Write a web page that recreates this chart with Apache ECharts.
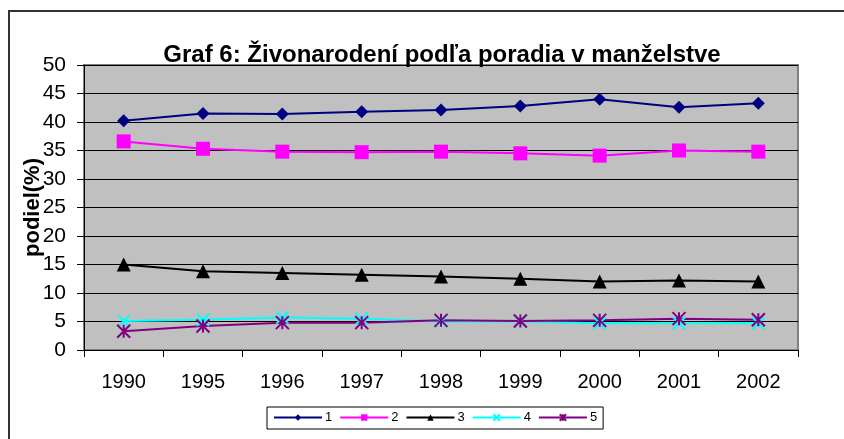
<!DOCTYPE html>
<html>
<head>
    <meta charset="utf-8">
    <title>Graf 6</title>
    <script src="https://cdn.jsdelivr.net/npm/echarts@6/dist/echarts.min.js"></script>
    <style>
        html, body { margin: 0; padding: 0; background: #fff; }
    </style>
</head>
<body>
<div id="main" style="width: 844px;height:439px;"></div>
<script type="text/javascript">
    // roky a hodnoty
    var years = ['1990', '1995', '1996', '1997', '1998', '1999', '2000', '2001', '2002'];
    var poradie1 = [40.2, 41.5, 41.4, 41.8, 42.1, 42.8, 44.0, 42.6, 43.3];
    var poradie2 = [36.6, 35.3, 34.8, 34.7, 34.8, 34.5, 34.1, 35.0, 34.8];
    var poradie3 = [15.0, 13.8, 13.5, 13.2, 12.9, 12.5, 12.0, 12.2, 12.0];
    var poradie4 = [5.1, 5.3, 5.7, 5.5, 5.0, 5.0, 4.7, 4.7, 4.7];
    var poradie5 = [3.3, 4.2, 4.8, 4.8, 5.2, 5.1, 5.2, 5.5, 5.3];
    var seriesNames = ['1', '2', '3', '4', '5'];

    var font = 'Arial, "Liberation Sans", sans-serif';
    var myChart = echarts.init(document.getElementById('main'));

    function line(name, data, color, symbol, size, extra) {
        var s = {
            name: name,
            type: 'line',
            data: data,
            symbol: symbol,
            symbolSize: size,
            showAllSymbol: true,
            lineStyle: {color: color, width: 2},
            itemStyle: {color: color},
            emphasis: {disabled: true},
            z: 3
        };
        if (extra) {
            s.itemStyle = extra;
        }
        return s;
    }

    var option = {
        animation: false,
        backgroundColor: '#fff',
        title: {
            text: 'Graf 6: Živonarodení podľa poradia v manželstve',
            left: 437,
            textAlign: 'center',
            top: 38,
            textStyle: {fontFamily: font, fontSize: 24, fontWeight: 'bold', color: '#000'}
        },
        legend: {
            data: seriesNames,
            left: 267,
            top: 407,
            width: 340,
            orient: 'horizontal',
            itemWidth: 48,
            itemHeight: 8,
            itemGap: 7,
            padding: [4, 6, 5, 6],
            borderColor: '#000',
            borderWidth: 1,
            textStyle: {fontFamily: font, fontSize: 13, color: '#000', padding: [0, 0, 0, -2]}
        },
        grid: {
            left: 84,
            right: 46,
            top: 65,
            bottom: 89,
            show: true,
            backgroundColor: '#C0C0C0',
            borderColor: '#808080',
            borderWidth: 2
        },
        xAxis: {
            type: 'category',
            data: years,
            boundaryGap: true,
            axisLine: {lineStyle: {color: '#000', width: 1}},
            axisTick: {show: true, length: 7, lineStyle: {color: '#000'}},
            axisLabel: {fontFamily: font, fontSize: 20, color: '#000', margin: 22}
        },
        yAxis: {
            type: 'value',
            min: 0,
            max: 50,
            interval: 5,
            name: 'podiel(%)',
            nameLocation: 'middle',
            nameRotate: 90,
            nameGap: 40,
            nameMoveOverlap: false,
            nameTextStyle: {fontFamily: font, fontSize: 22, fontWeight: 'bold', color: '#000'},
            axisLine: {show: true, lineStyle: {color: '#000', width: 1}},
            axisTick: {show: true, length: 7, lineStyle: {color: '#000'}},
            axisLabel: {fontFamily: font, fontSize: 21, color: '#000', margin: 18},
            splitLine: {show: true, lineStyle: {color: '#000', width: 1}}
        },
        series: [
            line('1', poradie1, '#000080', 'diamond', 13),
            line('2', poradie2, '#FF00FF', 'rect', 14),
            line('3', poradie3, '#000000', 'triangle', 14),
            line('4', poradie4, '#00FFFF', 'path://M0,0L10,10M10,0L0,10', 12,
                {color: '#00FFFF', borderColor: '#00FFFF', borderWidth: 2}),
            line('5', poradie5, '#800080', 'path://M0,0L10,10M10,0L0,10M5,0L5,10', 13,
                {color: '#800080', borderColor: '#800080', borderWidth: 2})
        ],
        graphic: [{
            type: 'rect',
            shape: {x: 9, y: 11, width: 900, height: 500},
            style: {fill: null, stroke: '#333', lineWidth: 2},
            silent: true
        }]
    };

    myChart.setOption(option);
</script>
</body>
</html>
